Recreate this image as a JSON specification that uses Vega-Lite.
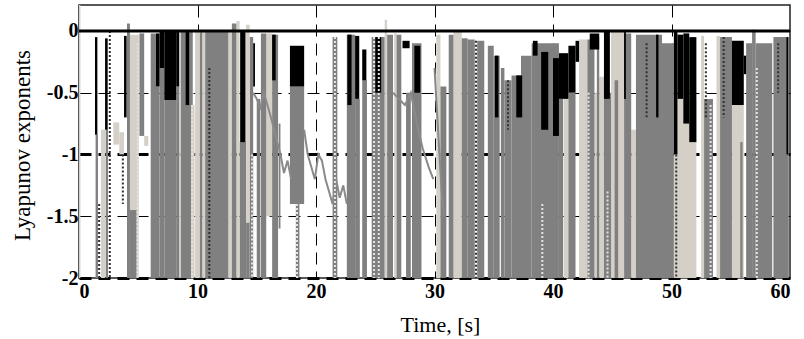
{
"$schema": "https://vega.github.io/schema/vega-lite/v6.json",
"autosize": "none",
"width": 711,
"height": 273,
"padding": {"left": 79, "top": 5, "right": 14, "bottom": 61},
"background": "white",
"config": {
  "view": {"stroke": "#222222", "strokeWidth": 1.5},
  "axis": {"labelFont": "Liberation Serif", "labelFontWeight": "bold", "labelFontSize": 20, "labelColor": "#000", "titleFont": "Liberation Serif", "titleFontWeight": "normal", "titleFontSize": 22, "titleColor": "#000", "ticks": false, "domain": false, "gridColor": "#000", "gridDash": [12, 7], "zindex": 1}
},
"datasets": {
  "bands": [
    {"s":"l","t0":0,"t1":0.12,"top":0.21,"bot":-2},
    {"s":"l","t0":1.85,"t1":2.2,"top":-0.8,"bot":-2},
    {"s":"l","t0":2.9,"t1":3.4,"top":-0.74,"bot":-0.92},
    {"s":"l","t0":3.4,"t1":3.8,"top":-0.82,"bot":-1.0},
    {"s":"l","t0":4.3,"t1":5.05,"top":-0.03,"bot":-2},
    {"s":"l","t0":5.5,"t1":5.85,"top":-0.85,"bot":-0.93},
    {"s":"l","t0":8.45,"t1":8.6,"top":0,"bot":-2},
    {"s":"l","t0":9.45,"t1":9.75,"top":-0.6,"bot":-2},
    {"s":"l","t0":9.8,"t1":10.2,"top":0,"bot":-2},
    {"s":"l","t0":10.4,"t1":10.65,"top":0,"bot":-2},
    {"s":"l","t0":12.6,"t1":12.9,"top":0,"bot":-2},
    {"s":"l","t0":15.8,"t1":16.3,"top":-0.02,"bot":-1.5},
    {"s":"l","t0":26.6,"t1":26.8,"top":-0.02,"bot":-2},
    {"s":"l","t0":30.15,"t1":30.5,"top":-0.03,"bot":-2},
    {"s":"l","t0":31.6,"t1":32.3,"top":0,"bot":-2},
    {"s":"l","t0":40.9,"t1":41.3,"top":-0.45,"bot":-2},
    {"s":"l","t0":42.2,"t1":42.9,"top":-0.07,"bot":-2},
    {"s":"l","t0":43.5,"t1":43.7,"top":-0.5,"bot":-2},
    {"s":"l","t0":43.9,"t1":44.3,"top":-0.37,"bot":-2},
    {"s":"l","t0":44.9,"t1":46.0,"top":0,"bot":-2},
    {"s":"l","t0":46.6,"t1":47.0,"top":-0.8,"bot":-2},
    {"s":"l","t0":50.2,"t1":52.1,"top":-0.55,"bot":-2},
    {"s":"l","t0":52.5,"t1":52.75,"top":-0.04,"bot":-2},
    {"s":"l","t0":53.8,"t1":54.1,"top":-0.04,"bot":-2},
    {"s":"l","t0":55.1,"t1":56.1,"top":-0.6,"bot":-2},
    {"s":"g","t0":1.4,"t1":1.6,"top":-0.84,"bot":-2},
    {"s":"g","t0":2.25,"t1":2.45,"top":-0.8,"bot":-2},
    {"s":"g","t0":4.05,"t1":4.3,"top":0.06,"bot":-2},
    {"s":"g","t0":4.3,"t1":4.85,"top":-1.45,"bot":-2},
    {"s":"g","t0":5.1,"t1":5.5,"top":-0.02,"bot":-0.85},
    {"s":"g","t0":6.05,"t1":6.5,"top":-0.02,"bot":-2},
    {"s":"g","t0":6.5,"t1":6.8,"top":-0.45,"bot":-2},
    {"s":"g","t0":6.8,"t1":7.2,"top":-0.3,"bot":-2},
    {"s":"g","t0":7.2,"t1":8.2,"top":-0.56,"bot":-2},
    {"s":"g","t0":8.2,"t1":8.45,"top":-0.45,"bot":-2},
    {"s":"g","t0":8.6,"t1":9.45,"top":0,"bot":-2},
    {"s":"g","t0":9.45,"t1":9.6,"top":0,"bot":-0.6},
    {"s":"g","t0":10.2,"t1":10.4,"top":-0.01,"bot":-2},
    {"s":"g","t0":10.65,"t1":12.6,"top":0,"bot":-2},
    {"s":"g","t0":12.9,"t1":13.3,"top":0.06,"bot":-2},
    {"s":"g","t0":13.55,"t1":14.1,"top":-0.9,"bot":-2},
    {"s":"g","t0":14.1,"t1":14.4,"top":-1.55,"bot":-2},
    {"s":"g","t0":14.4,"t1":14.7,"top":-0.05,"bot":-2},
    {"s":"g","t0":15.0,"t1":15.3,"top":-0.55,"bot":-2},
    {"s":"g","t0":15.35,"t1":15.8,"top":-0.02,"bot":-2},
    {"s":"g","t0":16.3,"t1":16.8,"top":-0.03,"bot":-2},
    {"s":"g","t0":16.85,"t1":17.0,"top":-0.75,"bot":-1.6},
    {"s":"g","t0":17.8,"t1":19.0,"top":-0.45,"bot":-1.4},
    {"s":"g","t0":18.3,"t1":18.6,"top":-1.4,"bot":-2},
    {"s":"g","t0":21.4,"t1":21.8,"top":-0.05,"bot":-2},
    {"s":"g","t0":22.6,"t1":23.3,"top":-0.03,"bot":-2},
    {"s":"g","t0":23.3,"t1":23.7,"top":-0.55,"bot":-2},
    {"s":"g","t0":23.9,"t1":24.3,"top":-0.4,"bot":-2},
    {"s":"g","t0":24.7,"t1":25.8,"top":-0.05,"bot":-2},
    {"s":"g","t0":26.0,"t1":26.5,"top":-0.03,"bot":-2},
    {"s":"g","t0":26.8,"t1":27.2,"top":-0.03,"bot":-2},
    {"s":"g","t0":27.6,"t1":28.0,"top":-0.5,"bot":-2},
    {"s":"g","t0":28.1,"t1":28.9,"top":-0.1,"bot":-2},
    {"s":"g","t0":30.5,"t1":31.0,"top":-0.45,"bot":-2},
    {"s":"g","t0":31.2,"t1":31.6,"top":-0.03,"bot":-2},
    {"s":"g","t0":32.3,"t1":32.8,"top":-0.06,"bot":-2},
    {"s":"g","t0":32.8,"t1":33.4,"top":-0.07,"bot":-2},
    {"s":"g","t0":33.6,"t1":34.2,"top":-0.08,"bot":-2},
    {"s":"g","t0":34.5,"t1":35.0,"top":-0.12,"bot":-2},
    {"s":"g","t0":35.0,"t1":35.5,"top":-0.2,"bot":-2},
    {"s":"g","t0":35.6,"t1":35.9,"top":-0.3,"bot":-2},
    {"s":"g","t0":35.9,"t1":36.5,"top":-0.4,"bot":-2},
    {"s":"g","t0":36.5,"t1":37.3,"top":-0.36,"bot":-2},
    {"s":"g","t0":37.3,"t1":38.2,"top":-0.2,"bot":-2},
    {"s":"g","t0":38.2,"t1":40.5,"top":-0.1,"bot":-2},
    {"s":"g","t0":40.5,"t1":40.85,"top":-0.55,"bot":-2},
    {"s":"g","t0":41.3,"t1":41.9,"top":-0.5,"bot":-2},
    {"s":"g","t0":42.9,"t1":43.5,"top":-0.07,"bot":-2},
    {"s":"g","t0":43.7,"t1":43.9,"top":-0.05,"bot":-2},
    {"s":"g","t0":44.3,"t1":44.9,"top":-0.5,"bot":-2},
    {"s":"g","t0":45.2,"t1":45.5,"top":-0.4,"bot":-2},
    {"s":"g","t0":46.0,"t1":46.6,"top":-0.02,"bot":-2},
    {"s":"g","t0":47.0,"t1":49.2,"top":-0.03,"bot":-2},
    {"s":"g","t0":49.2,"t1":50.2,"top":-0.1,"bot":-2},
    {"s":"g","t0":52.75,"t1":53.5,"top":-0.55,"bot":-2},
    {"s":"g","t0":54.1,"t1":55.1,"top":-0.05,"bot":-2},
    {"s":"g","t0":55.8,"t1":56.0,"top":-0.9,"bot":-2},
    {"s":"g","t0":56.3,"t1":56.8,"top":-0.1,"bot":-2},
    {"s":"g","t0":56.8,"t1":57.1,"top":0.01,"bot":-2},
    {"s":"g","t0":57.1,"t1":58.5,"top":-0.1,"bot":-2},
    {"s":"g","t0":58.6,"t1":59.9,"top":-0.05,"bot":-2},
    {"s":"k","t0":1.35,"t1":1.55,"top":-0.05,"bot":-0.84},
    {"s":"k","t0":2.2,"t1":2.42,"top":-0.06,"bot":-0.8},
    {"s":"k","t0":3.8,"t1":4.02,"top":-0.04,"bot":-0.7},
    {"s":"k","t0":6.5,"t1":6.8,"top":-0.02,"bot":-0.45},
    {"s":"k","t0":6.8,"t1":7.2,"top":0,"bot":-0.3},
    {"s":"k","t0":7.2,"t1":8.2,"top":0,"bot":-0.56},
    {"s":"k","t0":8.2,"t1":8.45,"top":0,"bot":-0.45},
    {"s":"k","t0":9.0,"t1":9.3,"top":0,"bot":-0.6},
    {"s":"k","t0":13.6,"t1":14.05,"top":0,"bot":-0.9},
    {"s":"k","t0":14.7,"t1":14.85,"top":-0.1,"bot":-0.45},
    {"s":"k","t0":16.3,"t1":16.6,"top":-0.03,"bot":-0.4},
    {"s":"k","t0":17.8,"t1":19.0,"top":-0.12,"bot":-0.45},
    {"s":"k","t0":22.65,"t1":23.0,"top":-0.03,"bot":-0.6},
    {"s":"k","t0":23.3,"t1":23.65,"top":-0.04,"bot":-0.55},
    {"s":"k","t0":23.9,"t1":24.25,"top":-0.15,"bot":-0.4},
    {"s":"k","t0":25.0,"t1":25.5,"top":-0.05,"bot":-0.5},
    {"s":"k","t0":27.3,"t1":27.9,"top":-0.08,"bot":-0.14},
    {"s":"k","t0":28.3,"t1":28.8,"top":-0.12,"bot":-0.5},
    {"s":"k","t0":35.1,"t1":35.4,"top":-0.2,"bot":-0.7},
    {"s":"k","t0":36.9,"t1":37.4,"top":-0.36,"bot":-0.7},
    {"s":"k","t0":38.3,"t1":38.7,"top":-0.08,"bot":-0.2},
    {"s":"k","t0":39.0,"t1":39.6,"top":-0.17,"bot":-0.8},
    {"s":"k","t0":40.0,"t1":40.5,"top":-0.22,"bot":-0.85},
    {"s":"k","t0":40.5,"t1":41.3,"top":-0.18,"bot":-0.55},
    {"s":"k","t0":41.3,"t1":41.9,"top":-0.12,"bot":-0.5},
    {"s":"k","t0":41.9,"t1":42.2,"top":-0.08,"bot":-0.25},
    {"s":"k","t0":43.1,"t1":43.9,"top":-0.02,"bot":-0.15},
    {"s":"k","t0":44.3,"t1":44.8,"top":0,"bot":-0.55},
    {"s":"k","t0":46.0,"t1":46.15,"top":0,"bot":-0.55},
    {"s":"k","t0":48.7,"t1":48.9,"top":-0.03,"bot":-0.7},
    {"s":"k","t0":50.2,"t1":50.5,"top":0,"bot":-1.0},
    {"s":"k","t0":50.5,"t1":51.0,"top":-0.03,"bot":-0.55},
    {"s":"k","t0":51.0,"t1":51.5,"top":-0.02,"bot":-0.75},
    {"s":"k","t0":51.5,"t1":52.1,"top":-0.05,"bot":-0.9},
    {"s":"k","t0":55.1,"t1":56.1,"top":-0.08,"bot":-0.6},
    {"s":"k","t0":56.1,"t1":56.3,"top":-0.2,"bot":-0.35},
    {"s":"k","t0":59.7,"t1":59.85,"top":-0.05,"bot":-1.0},
    {"s":"l","t0":13.3,"t1":13.55,"top":0.08,"bot":-2},
    {"s":"l","t0":14.1,"t1":14.4,"top":0.05,"bot":-1.55},
    {"s":"l","t0":25.8,"t1":26.0,"top":0.09,"bot":-2}
  ],
  "dots": [
    {"s":"dk","t":1.7,"top":-1.4,"bot":-2},
    {"s":"dk","t":2.6,"top":0,"bot":-2},
    {"s":"dk","t":3.7,"top":-1.0,"bot":-1.4},
    {"s":"lt","t":4.95,"top":-0.1,"bot":-2},
    {"s":"lt","t":9.55,"top":-0.6,"bot":-2},
    {"s":"dk","t":11.0,"top":-0.3,"bot":-2},
    {"s":"lt","t":14.6,"top":-1.0,"bot":-2},
    {"s":"lt","t":18.4,"top":-1.4,"bot":-2},
    {"s":"lt","t":21.6,"top":-0.05,"bot":-2},
    {"s":"lt","t":24.9,"top":-0.05,"bot":-2},
    {"s":"lt","t":25.3,"top":-0.05,"bot":-2},
    {"s":"dk","t":33.5,"top":-0.08,"bot":-2},
    {"s":"dk","t":36.2,"top":-0.4,"bot":-0.8},
    {"s":"lt","t":39.1,"top":-1.4,"bot":-2},
    {"s":"lt","t":43.0,"top":-0.5,"bot":-2},
    {"s":"lt","t":44.6,"top":-1.3,"bot":-2},
    {"s":"dk","t":47.9,"top":-0.1,"bot":-0.7},
    {"s":"dk","t":50.4,"top":-1.0,"bot":-2},
    {"s":"dk","t":52.9,"top":-0.1,"bot":-0.7},
    {"s":"lt","t":53.3,"top":-0.6,"bot":-2},
    {"s":"dk","t":54.4,"top":-0.05,"bot":-0.7},
    {"s":"lt","t":57.2,"top":-0.3,"bot":-2},
    {"s":"dk","t":59.0,"top":-0.1,"bot":-0.5}
  ],
  "wig": [
    {"id":"a","t":14.7,"v":-0.5},{"id":"a","t":15.0,"v":-0.55},{"id":"a","t":15.3,"v":-0.62},{"id":"a","t":15.6,"v":-0.5},{"id":"a","t":15.9,"v":-0.6},{"id":"a","t":16.2,"v":-0.7},{"id":"a","t":16.6,"v":-0.85},{"id":"a","t":17.0,"v":-1.0},{"id":"a","t":17.3,"v":-1.15},{"id":"a","t":17.6,"v":-1.05},{"id":"a","t":17.9,"v":-1.2},
    {"id":"b","t":19.0,"v":-0.8},{"id":"b","t":19.3,"v":-1.0},{"id":"b","t":19.6,"v":-1.1},{"id":"b","t":19.9,"v":-1.2},{"id":"b","t":20.2,"v":-1.0},{"id":"b","t":20.5,"v":-1.05},{"id":"b","t":20.8,"v":-1.2},{"id":"b","t":21.1,"v":-1.3},{"id":"b","t":21.4,"v":-1.4},{"id":"b","t":21.7,"v":-1.2},{"id":"b","t":22.0,"v":-1.35},{"id":"b","t":22.3,"v":-1.25},{"id":"b","t":22.6,"v":-1.4},
    {"id":"c","t":26.5,"v":-0.5},{"id":"c","t":27.0,"v":-0.55},{"id":"c","t":27.5,"v":-0.6},{"id":"c","t":28.0,"v":-0.5},{"id":"c","t":28.5,"v":-0.75},{"id":"c","t":29.0,"v":-0.95},{"id":"c","t":29.5,"v":-1.1},{"id":"c","t":29.9,"v":-1.2},
    {"id":"d","t":30.0,"v":-0.3},{"id":"d","t":30.3,"v":-0.8},{"id":"d","t":30.6,"v":-1.3},{"id":"d","t":30.8,"v":-1.5}
  ],
  "zero": [{"v": 0}]
},
"layer": [
  {
    "data": {"name": "bands"},
    "mark": {"type": "rect"},
    "encoding": {
      "x": {"field": "t0", "type": "quantitative", "scale": {"domain": [0, 60], "nice": false},
        "axis": {"title": "Time, [s]", "values": [0, 10, 20, 30, 40, 50, 60], "labelPadding": 3, "titleX": 361, "titleY": 46, "titleBaseline": "middle",
          "gridOpacity": {"condition": {"test": "datum.value == 0 || datum.value == 60", "value": 0}, "value": 1}}},
      "x2": {"field": "t1"},
      "y": {"field": "top", "type": "quantitative", "scale": {"domain": [-2, 0.21], "nice": false, "zero": false},
        "axis": {"title": "Lyapunov exponents", "values": [-2, -1.5, -1, -0.5, 0], "labelExpr": "'' + datum.value", "labelPadding": 1, "titleX": -57, "titleY": 140, "titleAlign": "center", "titleBaseline": "middle", "titleFontSize": 23,
          "gridWidth": {"condition": {"test": "datum.value == -1 || datum.value == -2", "value": 3}, "value": 1.2}}},
      "y2": {"field": "bot"},
      "color": {"field": "s", "type": "nominal", "legend": null,
        "scale": {"domain": ["k", "g", "l", "dk", "lt"], "range": ["#000000", "#808080", "#d4d0c8", "#303030", "#e4e4e4"]}}
    }
  },
  {
    "data": {"name": "wig"},
    "mark": {"type": "line", "strokeWidth": 2, "color": "#8a8a8a"},
    "encoding": {
      "x": {"field": "t", "type": "quantitative"},
      "y": {"field": "v", "type": "quantitative"},
      "detail": {"field": "id"}
    }
  },
  {
    "data": {"name": "dots"},
    "mark": {"type": "rule", "strokeWidth": 2, "strokeDash": [2, 2]},
    "encoding": {
      "x": {"field": "t", "type": "quantitative"},
      "y": {"field": "top", "type": "quantitative"},
      "y2": {"field": "bot"},
      "color": {"field": "s", "type": "nominal", "legend": null}
    }
  },
  {
    "data": {"name": "zero"},
    "mark": {"type": "rule", "strokeWidth": 3, "color": "#000"},
    "encoding": {"y": {"field": "v", "type": "quantitative"}}
  }
]
}
